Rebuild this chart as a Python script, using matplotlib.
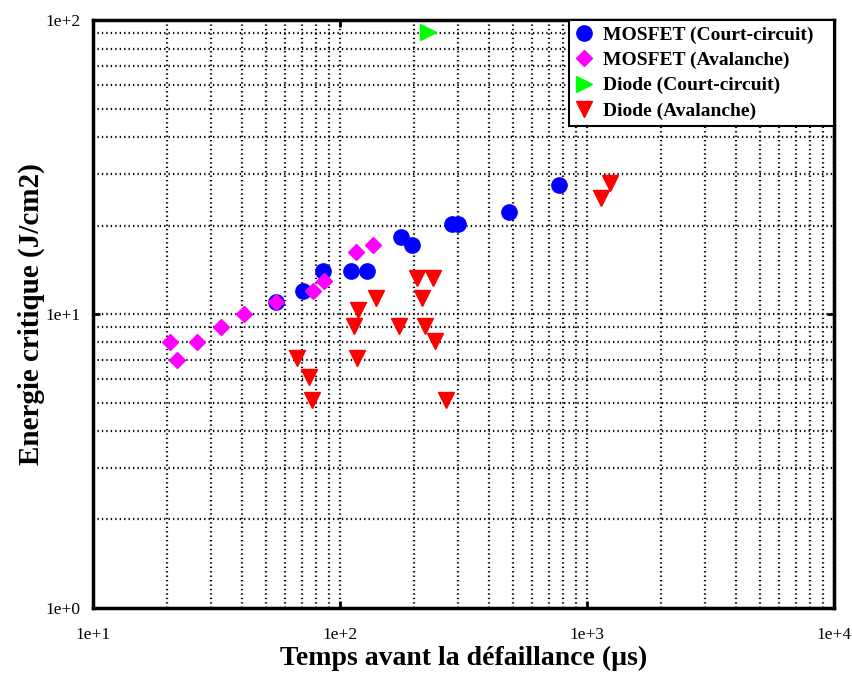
import numpy as np
import matplotlib
matplotlib.use('Agg')
from matplotlib import pyplot as plt
from matplotlib.ticker import LogLocator, FixedLocator, FixedFormatter

plt.rcParams['font.family'] = ['Liberation Serif', 'DejaVu Serif']

# values
mosfet_cc_t = [55, 71, 85, 111, 129, 176, 195, 285, 300, 485, 770]
mosfet_cc_e = [11, 12, 14, 14, 14, 18.3, 17.2, 20.2, 20.2, 22.3, 27.5]

mosfet_av_t = [20.5, 22, 26.5, 33, 41, 55, 78, 86, 116, 136]
mosfet_av_e = [8, 7, 8, 9, 10, 11, 12, 13, 16.2, 17.2]

diode_cc_t = [228]
diode_cc_e = [91]

diode_av_t = [67, 75, 77, 118, 114, 117, 140, 173, 206, 238, 214, 220, 242, 268, 1140, 1240]
diode_av_e = [7.1, 6.1, 5.1, 10.3, 9.1, 7.1, 11.3, 9.1, 13.3, 13.3, 11.3, 9.1, 8.1, 5.1, 24.8, 27.8]

labels = ['MOSFET (Court-circuit)', 'MOSFET (Avalanche)', 'Diode (Court-circuit)', 'Diode (Avalanche)']

xticks = [1e1, 1e2, 1e3, 1e4]
xticklabels = ['1e+1', '1e+2', '1e+3', '1e+4']
yticks = [1e0, 1e1, 1e2]
yticklabels = ['1e+0', '1e+1', '1e+2']

fig = plt.figure(figsize=(8.52, 6.75), dpi=100)
ax = fig.add_axes([0.109, 0.0993, 0.870, 0.871])
ax.set_xscale('log')
ax.set_yscale('log')
ax.set_xlim(1e1, 1e4)
ax.set_ylim(1e0, 1e2)

ax.plot(mosfet_cc_t, mosfet_cc_e, 'o', color=(0, 0, 1), ms=11, ls='none', label=labels[0], zorder=3)
ax.plot(mosfet_av_t, mosfet_av_e, 'D', color=(1, 0, 1), ms=8.5, ls='none', label=labels[1], zorder=3)
ax.plot(diode_cc_t, diode_cc_e, '>', color=(0, 1, 0), ms=11, ls='none', label=labels[2], zorder=3)
ax.plot(diode_av_t, diode_av_e, 'v', color=(1, 0, 0), ms=11, ls='none', label=labels[3], zorder=3)

ax.xaxis.set_major_locator(FixedLocator(xticks))
ax.xaxis.set_major_formatter(FixedFormatter(xticklabels))
ax.yaxis.set_major_locator(FixedLocator(yticks))
ax.yaxis.set_major_formatter(FixedFormatter(yticklabels))
ax.xaxis.set_minor_locator(LogLocator(base=10, subs=np.arange(2, 10)))
ax.yaxis.set_minor_locator(LogLocator(base=10, subs=np.arange(2, 10)))
ax.xaxis.set_minor_formatter(plt.NullFormatter())
ax.yaxis.set_minor_formatter(plt.NullFormatter())

ax.tick_params(which='major', direction='in', length=5, width=2, top=True, right=True,
               labelsize=12.5)
ax.tick_params(axis='x', which='major', pad=14)
ax.tick_params(axis='y', which='major', pad=9)
ax.tick_params(which='minor', length=0)
ax.grid(which='both', color='black', linestyle=(0, (0.6, 1.4)), linewidth=1.6)
ax.set_axisbelow(True)

for s in ax.spines.values():
    s.set_linewidth(2.5)

ax.set_xlabel('Temps avant la défaillance (µs)', fontsize=20, fontweight='bold', labelpad=2)
ax.set_ylabel('Energie critique (J/cm2)', fontsize=21, fontweight='bold', labelpad=0)

leg = ax.legend(loc='upper left', bbox_to_anchor=(0.642, 0, 0.358, 1.0), mode='expand',
                borderaxespad=0, fancybox=False, framealpha=1,
                edgecolor='black', handlelength=1.0, handletextpad=0.45, borderpad=0.3,
                labelspacing=0.4, prop={'weight': 'bold', 'size': 14})
leg.get_frame().set_linewidth(1.5)

fig.savefig('out.png', dpi=100)
